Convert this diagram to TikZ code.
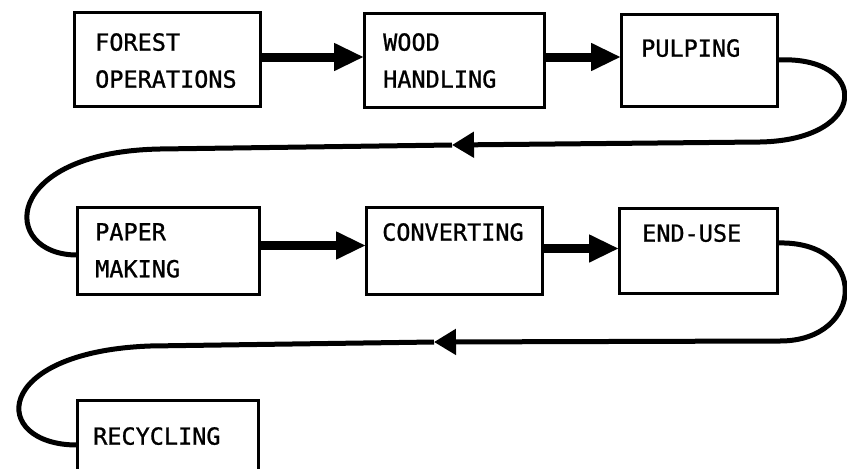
\documentclass[tikz,border=0pt]{standalone}
\usepackage{fontspec}
\newfontfamily\boxfont{DejaVu Sans Mono}[FakeBold=1]
\usetikzlibrary{arrows.meta}
\begin{document}
\begin{tikzpicture}[x=1pt,y=-1pt,
  box/.style={draw, line width=3pt, anchor=north west, inner sep=0pt, outer sep=0pt},
  lbl/.style={font=\boxfont\fontsize{23.5pt}{37pt}\selectfont, align=left, anchor=north west, inner sep=0pt},
  thk/.style={line width=9pt, -{Triangle[length=30pt,width=26pt]}},
  loopl/.style={line width=5pt},
  looptip/.style={-{Triangle[length=22pt,width=25pt]}}]
\useasboundingbox (0,0) rectangle (847,469);
% boxes
\node[box, minimum width=186pt, minimum height=94pt] (forest) at (74,12) {};
\node[box, minimum width=180pt, minimum height=94pt] (wood) at (364,13) {};
\node[box, minimum width=156pt, minimum height=92pt] (pulp) at (621,14) {};
\node[box, minimum width=182pt, minimum height=87pt] (paper) at (77,207) {};
\node[box, minimum width=176pt, minimum height=87pt] (conv) at (366,207) {};
\node[box, minimum width=158pt, minimum height=85pt] (enduse) at (619,208) {};
\node[box, minimum width=181pt, minimum height=90pt] (recyc) at (77,400) {};
% labels
\node[lbl] (forestt) at (95,33) {FOREST\\OPERATIONS};
\node[lbl] (woodt) at (383,33) {WOOD\\HANDLING};
\node[lbl] (pulpt) at (641,39) {PULPING};
\node[lbl] (papert) at (95,223) {PAPER\\MAKING};
\node[lbl] (convt) at (382,223) {CONVERTING};
\node[lbl] (enduset) at (642,224) {END-USE};
\node[lbl] (recyct) at (93,427) {RECYCLING};
% straight arrows
\draw[thk] ([yshift=2pt]forest.east) -- ([yshift=2pt]forest.east -| wood.west);
\draw[thk] ([yshift=3pt]wood.east) -- ([yshift=3pt]wood.east -| pulp.west);
\draw[thk] ([yshift=5pt]paper.east) -- ([yshift=5pt]paper.east -| conv.west);
\draw[thk] ([yshift=2pt]conv.east) -- ([yshift=2pt]conv.east -| enduse.west);
% return loops
\coordinate (r1) at (452,145);
\draw[loopl, looptip] (pulp.east) .. controls (870,55) and (870,140) .. (760,142) -- (r1);
\draw[loopl] (r1) -- (160,149) .. controls (0,152) and (0,255) .. ([yshift=-4.5pt]paper.west);
\coordinate (r2) at (434,342);
\draw[loopl, looptip] ([yshift=7.5pt]enduse.east) .. controls (870,240) and (865,341) .. (780,341) -- (r2);
\draw[loopl] (r2) -- (150,346) .. controls (-10,352) and (-10,445) .. (recyc.west);
\end{tikzpicture}
\end{document}
